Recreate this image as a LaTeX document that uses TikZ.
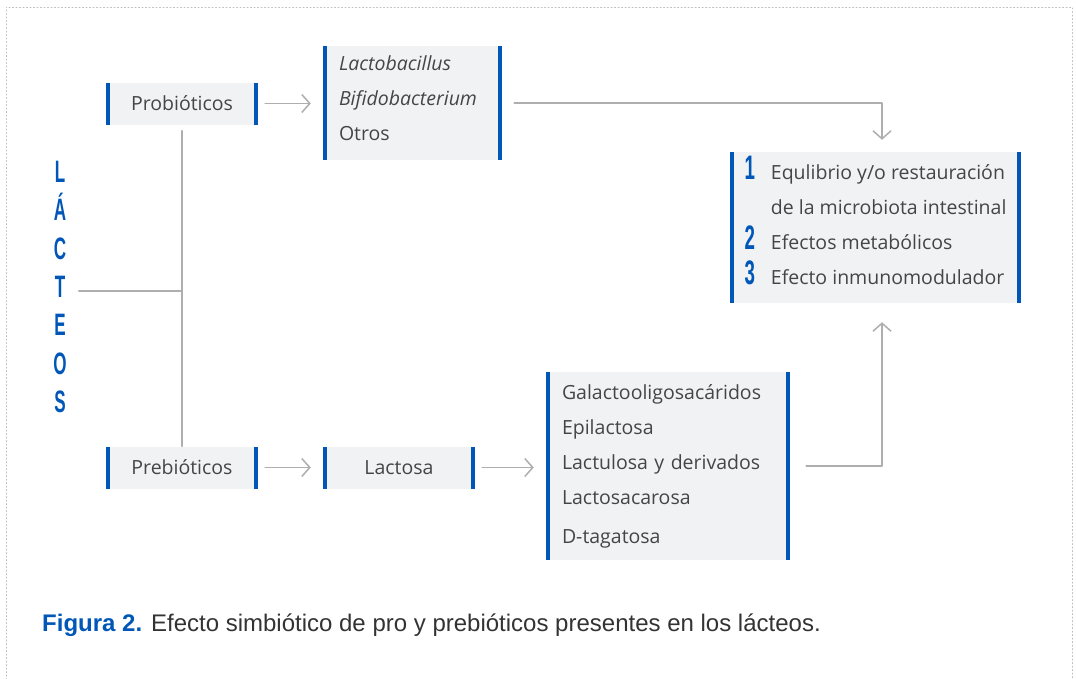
\documentclass[tikz,border=0pt]{standalone}
\usepackage{fontspec}
\setmainfont{Open Sans}
\newfontfamily\piefont{Liberation Sans}
\newfontfamily\condfont[FakeStretch=0.55]{Liberation Sans}
\usetikzlibrary{arrows.meta}
\definecolor{azul}{HTML}{0057B8}
\definecolor{cajagris}{HTML}{F1F2F4}
\definecolor{textogris}{HTML}{454545}
\definecolor{lineagris}{HTML}{AEAEAE}
\newcommand\cifra[1]{{\condfont\bfseries\fontsize{34}{35}\selectfont\color{azul}#1}}
\newcommand\bajo[1]{\rule[-#1]{0pt}{1pt}}
\tikzset{
  cajon/.style={fill=cajagris, inner sep=0pt, text=textogris,
    font=\fontsize{19.5}{35}\selectfont,
    path picture={
      \fill[azul] (path picture bounding box.south west) rectangle ([xshift=4pt]path picture bounding box.north west);
      \fill[azul] ([xshift=-4pt]path picture bounding box.south east) rectangle (path picture bounding box.north east);}},
  chico/.style={cajon, minimum width=152pt, minimum height=42pt},
  linea/.style={draw=lineagris, line width=1.5pt},
  flecha/.style={linea, -{Straight Barb[length=8pt,width=18pt,line width=1.5pt]}},
}
\begin{document}
\begin{tikzpicture}[x=1pt, y=-1pt, line join=round, line cap=round]
  \useasboundingbox (0,0) rectangle (1076,678);
  % marco punteado
  \draw[lineagris!80, line width=1pt, dash pattern=on 1pt off 2.5pt] (6,690) -- (6,7) -- (1072,7) -- (1072,690);
  % cajas
  \node[chico] (probio) at (182,103.5) {Probióticos};
  \node[cajon, minimum width=179pt, minimum height=114pt, text width=147pt, align=left] (bacter) at (412.5,103)
    {{\itshape Lactobacillus}\\ {\itshape Bifidobacterium}\\ Otros\bajo{9pt}};
  \node[cajon, minimum width=291pt, minimum height=151pt] (efectos) at (875.5,227.5)
    {\begin{tabular}{@{}c@{\hspace{16pt}}l@{}}
      \cifra{1} & Equlibrio y/o restauración\\
                & de la microbiota intestinal\\
      \cifra{2} & Efectos metabólicos\\
      \cifra{3} & Efecto inmunomodulador\bajo{15pt}
     \end{tabular}};
  \node[chico] (prebio) at (182,467.5) {Prebióticos};
  \node[chico] (lactosa) at (399,467.5) {Lactosa};
  \node[cajon, minimum width=244pt, minimum height=188pt, text width=212pt, align=left] (azucares) at (668,466)
    {Galactooligosacáridos\\ Epilactosa\\ Lactulosa y derivados\\ Lactosacarosa\\[4pt] D-tagatosa};
  % lacteos
  \node[inner sep=0pt, align=center, text=azul, font=\condfont\bfseries\fontsize{31}{38.3}\selectfont] (lacteos) at (60,287)
    {L\\Á\\C\\T\\E\\O\\S};
  \coordinate (nudo) at (182,291);
  \draw[linea, shorten <=6pt] (probio.south) -- (prebio.north);
  \draw[linea, shorten <=12pt] (lacteos.east |- nudo) -- (nudo);
  % flechas
  \foreach \a/\b in {probio/bacter, prebio/lactosa, lactosa/azucares}
    \draw[flecha, shorten <=7pt, shorten >=12pt] (\a.east) -- (\b.west |- \a.east);
  \draw[flecha, shorten <=12pt, shorten >=12pt] (bacter.east) -| ([xshift=6.5pt]efectos.north);
  \draw[flecha, shorten <=16pt, shorten >=19pt] (azucares.east) -| ([xshift=6.5pt]efectos.south);
  % pie de figura
  \node[anchor=west, inner sep=0pt, text=black!80, font=\piefont\fontsize{24}{28}\selectfont] (pie) at (42,625)
    {\textcolor{azul}{\bfseries Figura 2.} Efecto simbiótico de pro y prebióticos presentes en los lácteos.};
\end{tikzpicture}
\end{document}
